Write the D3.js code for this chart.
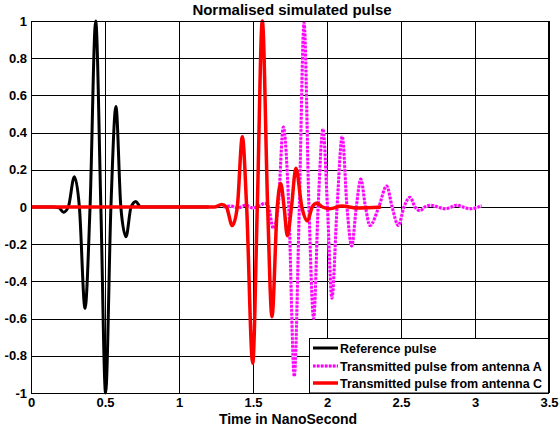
<!DOCTYPE html>
<html>
<head>
<meta charset="utf-8">
<script src="https://cdn.jsdelivr.net/npm/d3@7"></script>
<style>
  html, body { margin: 0; padding: 0; background: #fff; }
  svg { display: block; font-family: "Liberation Sans", Arial, sans-serif; }
</style>
</head>
<body>
<svg id="chart" width="559" height="432"></svg>
<script>
// ---- data ----
const xTicks = [0, 0.5, 1, 1.5, 2, 2.5, 3, 3.5];
const yTicks = [-1, -0.8, -0.6, -0.4, -0.2, 0, 0.2, 0.4, 0.6, 0.8, 1];

const refX = [0, 0.15, 0.19, 0.22, 0.252, 0.293, 0.327, 0.365, 0.399, 0.437, 0.472, 0.504, 0.54, 0.574, 0.607, 0.642, 0.676, 0.709, 0.74, 0.78, 1.2];
const refY = [0, 0, -0.005, -0.028, 0, 0.163, 0, -0.545, 0, 1.0, 0, -1.0, 0, 0.54, 0, -0.16, 0, 0.03, 0, 0, 0];

const antAX = [1.3, 1.35, 1.40, 1.45, 1.50, 1.55, 1.58, 1.605, 1.637, 1.67, 1.705, 1.742, 1.779, 1.813, 1.845, 1.878, 1.91, 1.94, 1.973, 2.003, 2.033, 2.068, 2.103, 2.135, 2.167, 2.198, 2.228, 2.26, 2.29, 2.35, 2.403, 2.44, 2.482, 2.52, 2.561, 2.595, 2.628, 2.66, 2.70, 2.75, 2.797, 2.84, 2.876, 2.92, 2.966, 3.045];
const antAY = [0, 0.005, -0.005, 0.01, -0.005, 0.01, 0.02, 0, -0.115, 0, 0.43, 0, -0.91, 0, 0.99, 0, -0.60, 0, 0.42, 0, -0.49, 0, 0.38, 0, -0.21, 0, 0.15, 0, -0.10, 0, 0.113, 0, -0.10, 0, 0.052, 0, -0.02, 0, 0.01, 0, -0.01, 0, 0.01, 0, -0.01, 0.007];

const antCX = [0, 1.24, 1.288, 1.32, 1.36, 1.394, 1.428, 1.457, 1.498, 1.529, 1.563, 1.599, 1.628, 1.664, 1.687, 1.71, 1.732, 1.76, 1.79, 1.83, 1.868, 1.90, 1.93, 1.97, 2.02, 2.1, 2.2, 2.365];
const antCY = [0, 0, 0.014, 0, -0.10, 0, 0.378, 0, -0.84, 0, 1.0, 0, -0.59, 0, 0.127, 0, -0.154, 0, 0.208, 0, -0.075, 0, 0.02, 0, -0.01, 0.005, -0.005, 0];

const seriesNames = ["Reference pulse", "Transmitted pulse from antenna A", "Transmitted pulse from antenna C"];
const titleText = "Normalised simulated pulse";
const xLabelText = "Time in NanoSecond";

// ---- layout ----
const svg = d3.select("#chart");
const plot = { left: 31, right: 549, top: 21, bottom: 393 };
const x = d3.scaleLinear().domain([0, 3.5]).range([plot.left, plot.right]);
const y = d3.scaleLinear().domain([-1, 1]).range([plot.bottom, plot.top]);

svg.append("rect").attr("x", 0).attr("y", 0).attr("width", 559).attr("height", 432).attr("fill", "#fff");

// grid
const grid = svg.append("g");
grid.selectAll("line.vx").data(xTicks).enter().append("line")
  .attr("x1", d => Math.round(x(d)) + 0.5).attr("x2", d => Math.round(x(d)) + 0.5)
  .attr("y1", plot.top).attr("y2", plot.bottom)
  .attr("stroke", "#000").attr("stroke-width", 1);
grid.selectAll("line.hy").data(yTicks).enter().append("line")
  .attr("y1", d => Math.round(y(d)) + 0.5).attr("y2", d => Math.round(y(d)) + 0.5)
  .attr("x1", plot.left).attr("x2", plot.right)
  .attr("stroke", "#000").attr("stroke-width", 1);

// axes (labels only, box drawn separately)
const xAxis = d3.axisBottom(x).tickValues(xTicks).tickSize(0).tickPadding(4).tickFormat(d => String(d));
const yAxis = d3.axisLeft(y).tickValues(yTicks).tickSize(0).tickPadding(4).tickFormat(d => String(Math.round(d * 10) / 10));
const gx = svg.append("g").attr("transform", `translate(0,${plot.bottom})`).call(xAxis);
const gy = svg.append("g").attr("transform", `translate(${plot.left},0)`).call(yAxis);
[gx, gy].forEach(g => {
  g.select(".domain").remove();
  g.selectAll("text").attr("font-size", 13).attr("font-weight", "bold").attr("fill", "#000")
    .attr("font-family", '"Liberation Sans", Arial, sans-serif');
});
gx.selectAll("text").attr("dy", null).attr("y", 13.5);

// lines
const line = d3.line().x(d => x(d[0])).y(d => y(d[1])).curve(d3.curveMonotoneX);
const zip = (a, b) => a.map((v, i) => [v, b[i]]);

svg.append("clipPath").attr("id", "clip").append("rect")
  .attr("x", plot.left).attr("y", plot.top - 2).attr("width", plot.right - plot.left).attr("height", plot.bottom - plot.top + 4);
const lines = svg.append("g").attr("clip-path", "url(#clip)");

lines.append("path").datum(zip(refX, refY)).attr("d", line)
  .attr("fill", "none").attr("stroke", "#000").attr("stroke-width", 3).attr("stroke-linejoin", "round");
lines.append("path").datum(zip(antAX, antAY)).attr("d", line)
  .attr("fill", "none").attr("stroke", "#f7c0f7").attr("stroke-width", 3);
lines.append("path").datum(zip(antAX, antAY)).attr("d", line)
  .attr("fill", "none").attr("stroke", "#ff00ff").attr("stroke-width", 3).attr("stroke-dasharray", "2.5,1.5");
lines.append("path").datum(zip(antCX, antCY)).attr("d", line)
  .attr("fill", "none").attr("stroke", "#ff0000").attr("stroke-width", 3.5).attr("stroke-linejoin", "round");

// box
svg.append("rect").attr("x", plot.left + 0.5).attr("y", plot.top + 0.5)
  .attr("width", plot.right - plot.left - 1).attr("height", plot.bottom - plot.top)
  .attr("fill", "none").attr("stroke", "#000").attr("stroke-width", 1);

// title & label
svg.append("text").attr("x", 292).attr("y", 15).attr("text-anchor", "middle")
  .attr("font-size", 15).attr("font-weight", "bold").text(titleText);
svg.append("text").attr("x", 288).attr("y", 424).attr("text-anchor", "middle")
  .attr("font-size", 14).attr("font-weight", "bold").text(xLabelText);

// legend
const lg = svg.append("g");
lg.append("rect").attr("x", 309.5).attr("y", 338.5).attr("width", 239).attr("height", 54.5)
  .attr("fill", "#fff").attr("stroke", "#000").attr("stroke-width", 1);
const legendY = [348, 366, 383];
const styles = [
  { stroke: "#000", w: 3, dash: null, under: null },
  { stroke: "#ff00ff", w: 3, dash: "2.5,1.5", under: "#f7c0f7" },
  { stroke: "#ff0000", w: 3.5, dash: null, under: null }
];
seriesNames.forEach((name, i) => {
  const s = styles[i];
  if (s.under) lg.append("line").attr("x1", 313).attr("x2", 338).attr("y1", legendY[i]).attr("y2", legendY[i])
    .attr("stroke", s.under).attr("stroke-width", s.w);
  const l = lg.append("line").attr("x1", 313).attr("x2", 338).attr("y1", legendY[i]).attr("y2", legendY[i])
    .attr("stroke", s.stroke).attr("stroke-width", s.w);
  if (s.dash) l.attr("stroke-dasharray", s.dash);
  lg.append("text").attr("x", 340).attr("y", legendY[i] + 4.5)
    .attr("font-size", 12.5).attr("font-weight", "bold").text(name);
});
</script>
</body>
</html>
